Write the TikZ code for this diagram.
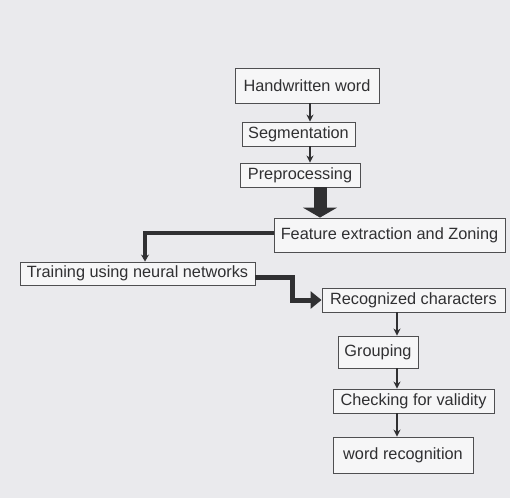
\documentclass[tikz,border=0pt]{standalone}
\usepackage{fontspec}
\setmainfont{Liberation Sans}
\usetikzlibrary{arrows.meta}
\definecolor{paper}{RGB}{234,234,237}
\definecolor{ink}{RGB}{48,48,50}
\begin{document}
\begin{tikzpicture}[x=1pt, y=-1pt,
  box/.style={draw=ink!85, line width=0.9pt, fill=white!55!paper, text=ink,
    inner sep=0pt, font=\fontsize{16.3}{18}\selectfont},
  thinflow/.style={draw=ink, line width=2.2pt, -{Stealth[length=7pt, width=7pt]}},
  midflow/.style={draw=ink, line width=4.5pt, line join=miter, -{Stealth[length=7pt, width=8pt]}},
  fatflow/.style={draw=ink, line width=13pt, -{Triangle[length=10pt, width=34pt]}},
  bendflow/.style={draw=ink, line width=5pt, line join=miter, -{Triangle[length=11pt, width=17pt]}}]
  \fill[paper] (0,0) rectangle (510,498);
  \useasboundingbox (0,0) rectangle (510,498);

  \coordinate (xtop) at (310,0);
  \coordinate (xfat) at (320,0);
  \coordinate (xleft) at (145,0);
  \coordinate (xlow) at (397,0);
  \coordinate (bend) at (292,300);

  \node[box, minimum width=144pt, minimum height=35pt] (hw) at (307,85.5) {Handwritten word};
  \node[box, minimum width=113pt, minimum height=24pt] (seg) at (298.5,134) {Segmentation};
  \node[box, minimum width=120pt, minimum height=24pt] (pre) at (300,175) {Preprocessing};
  \node[box, minimum width=231pt, minimum height=34pt] (feat) at (389.5,235) {Feature extraction and Zoning};
  \node[box, minimum width=235pt, minimum height=23pt] (train) at (137.5,273.5) {Training using neural networks};
  \node[box, minimum width=183pt, minimum height=24pt] (recog) at (413.5,300) {Recognized characters};
  \node[box, minimum width=80pt, minimum height=32pt] (group) at (378,352) {Grouping};
  \node[box, minimum width=161pt, minimum height=24pt] (check) at (413.5,401) {Checking for validity};
  \node[box, minimum width=140pt, minimum height=36pt] (wrec) at (403,455) {word recognition};

  \draw[thinflow] (hw.south -| xtop) -- (seg.north -| xtop);
  \draw[thinflow] (seg.south -| xtop) -- (pre.north -| xtop);
  \draw[fatflow] (pre.south -| xfat) -- (feat.north -| xfat);
  \draw[midflow] ([yshift=2pt]feat.west) -| (xleft |- train.north);
  \draw[bendflow] ([yshift=-4pt]train.east) -| (bend) -- (recog.west);
  \draw[thinflow] (recog.south -| xlow) -- (group.north -| xlow);
  \draw[thinflow] (group.south -| xlow) -- (check.north -| xlow);
  \draw[thinflow] (check.south -| xlow) -- (wrec.north -| xlow);
\end{tikzpicture}
\end{document}
